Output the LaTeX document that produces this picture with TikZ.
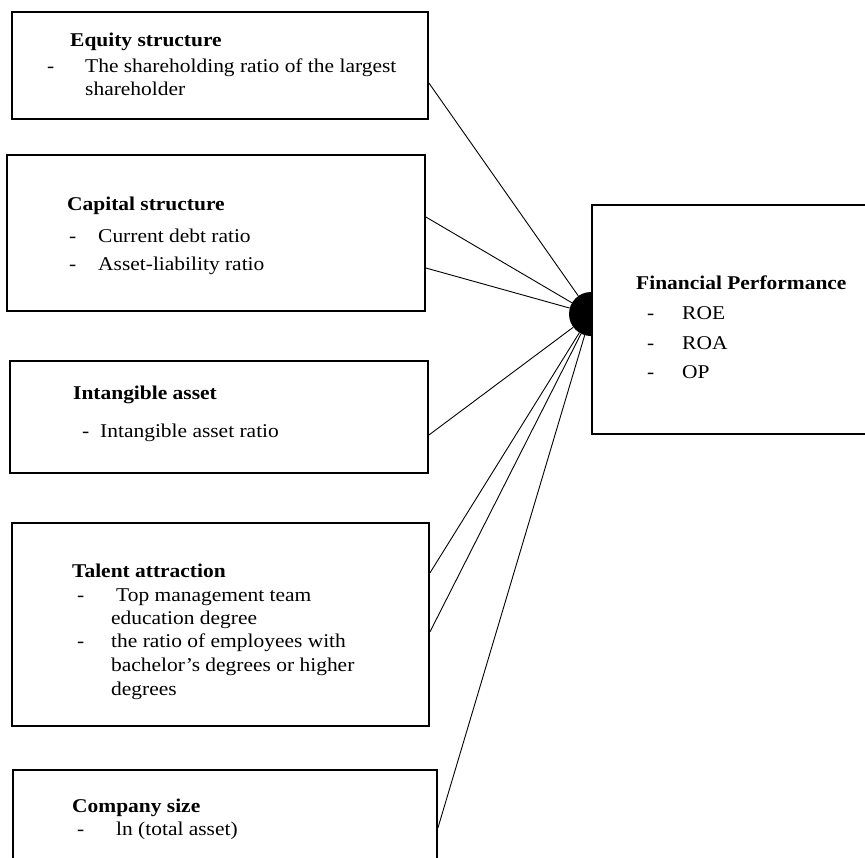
\documentclass[tikz,border=0pt]{standalone}
\usepackage{fontspec}
\setmainfont{Liberation Serif}[FakeStretch=1.1]

\begin{document}
\begin{tikzpicture}[x=1pt,y=-1pt,
	box/.style={draw, line width=1.8pt, fill=white, inner sep=0pt},
	txt/.style={anchor=base west, inner sep=0pt, font=\fontsize{19.5}{23.5}\selectfont},
	ttl/.style={txt, font=\fontsize{19.5}{23.5}\selectfont\bfseries},
	link/.style={line width=0.9pt}]
	\path[use as bounding box, clip] (0,0) rectangle (865,857);% page size
	
	% factor boxes
	\node[box, minimum width=416pt, minimum height=107pt] (Equity)     at (220,65.5)  {};
	\node[box, minimum width=418pt, minimum height=156pt] (Capital)    at (216,233)   {};
	\node[box, minimum width=418pt, minimum height=112pt] (Intangible) at (219,417)   {};
	\node[box, minimum width=417pt, minimum height=203pt] (Talent)     at (220.5,624.5) {};
	\node[box, minimum width=424pt, minimum height=130pt] (Size)       at (225,835)   {};% runs off the page
	
	\node[circle, fill=black, inner sep=0pt, minimum size=44pt] (Dot) at (591,314) {};
	
	% line ends on the boxes
	\coordinate (EquityOut)    at (Equity.east |- 0,83);
	\coordinate (CapitalOutA)  at (Capital.east |- 0,217);
	\coordinate (CapitalOutB)  at (Capital.east |- 0,268);
	\coordinate (IntangOut)    at (Intangible.east |- 0,435);
	\coordinate (TalentOutA)   at (Talent.east |- 0,573);
	\coordinate (TalentOutB)   at (Talent.east |- 0,632);
	\coordinate (SizeOut)      at (Size.east |- 0,828);
	\foreach \c in {EquityOut,CapitalOutA,CapitalOutB,IntangOut,TalentOutA,TalentOutB,SizeOut}
		\draw[link] (\c) -- (Dot);
	
	\node[box, minimum width=308pt, minimum height=229pt] (Perf) at (746,319.5) {};% covers half the dot
	
	% Equity structure
	\node[ttl] (EquityTitle) at (70,46) {Equity structure};
	\node[txt] (EquityDash)  at (47,72) {-};
	\node[txt] (EquityItemA) at (85,72) {The shareholding ratio of the largest};
	\node[txt] (EquityItemB) at (85,95) {shareholder};
	
	% Capital structure
	\node[ttl] (CapitalTitle) at (67,210) {Capital structure};
	\foreach \y/\t [count=\i] in {242/Current debt ratio, 270/Asset-liability ratio} {
		\node[txt] (CapitalDash\i) at (69,\y) {-};
		\node[txt] (CapitalItem\i) at (98,\y) {\t};
	}
	
	% Intangible asset
	\node[ttl] (IntangTitle) at (73,399) {Intangible asset};
	\node[txt] (IntangDash)  at (82,437) {-};
	\node[txt] (IntangItem)  at (100,437) {Intangible asset ratio};
	
	% Talent attraction
	\node[ttl] (TalentTitle) at (72,577) {Talent attraction};
	\node[txt] (TalentDashA) at (77,601) {-};
	\node[txt] (TalentItemA) at (116,601) {Top management team};
	\node[txt] (TalentItemB) at (111,624) {education degree};
	\node[txt] (TalentDashB) at (77,647) {-};
	\node[txt] (TalentItemC) at (111,647) {the ratio of employees with};
	\node[txt] (TalentItemD) at (111,671) {bachelor’s degrees or higher};
	\node[txt] (TalentItemE) at (111,695) {degrees};
	
	% Company size
	\node[ttl] (SizeTitle) at (72,812) {Company size};
	\node[txt] (SizeDash)  at (77,835) {-};
	\node[txt] (SizeItem)  at (116,835) {ln (total asset)};
	
	% Financial Performance
	\node[ttl] (PerfTitle) at (636,289) {Financial Performance};
	\foreach \y/\t [count=\i] in {319/ROE, 349/ROA, 378/OP} {
		\node[txt] (PerfDash\i) at (647,\y) {-};
		\node[txt] (PerfItem\i) at (682,\y) {\t};
	}
	
\end{tikzpicture}
\end{document}
